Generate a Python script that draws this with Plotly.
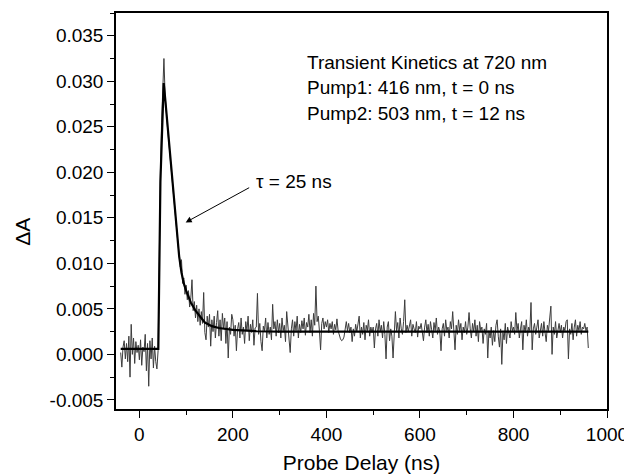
import numpy as np
import plotly.graph_objects as go

# Probe delay grid of the measured trace (ns)
t_start, t_step, t_end = -40.0, 2.5, 960.0

dA_pre = [2, -14, 8, 15, -5, 12, -8, 20, -25, 33, 0, 18, -10, 14, 2, 10, -6,
          16, -12, 8, 3, 22, -18, 12, -35, 15, -5, 18, -15, 9, -8, -16, 4]
dA_decay = [110, 200, 255, 305, 325, 285, 262, 250, 235, 222, 206,
            196, 182, 166, 150, 136, 122, 110, 96, 104, 78, 84, 66,
            76, 60, 70, 52, 62, 82, 48, 58, 40, 54, 36, 50, 32, 47,
            34, 68, 24, 16, 42, 30, 44, 9, 38, 25, 42, 18, 35, 48,
            20, 38, 15, 45, 28, 40, 12, 36, -4, 30, 22, 44]
dA_tail = [
    38, 20, 32, 4, 28, 35, 18, 40, 22, 30, 12, 36, 26, 42, 15, 33, 24, 38, 10, 29,
    30, 67, 22, 34, 14, 4, 31, 26, 40, 18, 35, 22, 30, 16, 55, 28, 36, 20, 38, 24,
    34, 18, 40, 26, 32, 14, 47, 30, 22, 2, 28, 38, 20, 36, 26, 42, 18, 33, 24, 37,
    28, 40, 21, 35, 30, 44, 24, 38, 20, 45, 32, 75, 36, 42, 26, 5, 34, 40, 28, 36,
    30, 38, 24, 34, 28, 36, 22, 33, 27, 39, 26, 20, 17, 15, 16, 19, 30, 36, 26, 34,
    24, 30, 14, 28, 20, 33, 25, 36, 42, 18, 30, 22, 35, 16, 32, 26, 38, 20, 30, 24,
    30, 7, 28, 34, 20, 38, 25, 32, 18, 36, 22, -5, 30, 36, 15, 28, 20, -4, 32, 47,
    26, 35, 18, 40, 28, 22, 36, 60, 24, 32, 25, 30, 38, 20, 33, 28, 24, 36, 19, 31,
    28, 34, 22, 15, 30, 38, 24, 33, 20, 36, 27, 18, 35, 26, 40, 22, 30, 25, 4, 28,
    34, 20, 38, 26, 30, 18, 36, 28, 47, 24, 5, 32, 22, 38, 26, 34, 16, 30, 24, 36,
    22, 30, 46, 28, 18, 34, 25, 38, 20, 32, 14, 36, 26, 30, 12, 28, 22, 34, -4, 26,
    18, 30, 10, 26, 14, 32, 38, 20, 8, 28, -11, 24, 16, 34, 12, 30, 22, 18, 36, 26,
    30, 22, 46, 26, 34, 18, 28, 36, 5, 32, 24, 38, 20, 30, 26, 57, 5, 28, 34, 22,
    30, 38, 18, 28, 34, 20, 36, 24, 14, 32, 26, 40, 53, 0, 30, 22, 36, 18, 28, 34,
    24, 32, 18, 30, 26, 36, 38, -5, 28, 22, 34, 16, 30, 38, 20, 32, 26, 36, 22, 30,
    28, 34, 26, 30, 7]

# Fitted curve
fit_t = [-40, 40.5, 45, 52, 55, 60, 65, 70, 75, 80, 85, 90, 95, 100, 105, 110,
         120, 130, 140, 155, 170, 200, 250, 300, 960]
fit_v = [0.0006, 0.0006, 0.0190, 0.0298, 0.0282, 0.0252, 0.0222, 0.0196, 0.0166,
         0.0134, 0.0108, 0.0090, 0.0078, 0.0070, 0.0063, 0.0057, 0.0048, 0.0041,
         0.0035, 0.0031, 0.0029, 0.0027, 0.00255, 0.0025, 0.0025]

# Axis ticks
x_ticks = [0, 200, 400, 600, 800, 1000]
y_ticks = [-0.005, 0.0, 0.005, 0.010, 0.015, 0.020, 0.025, 0.030, 0.035]
y_tick_text = ["-0.005", "0.000", "0.005", "0.010", "0.015", "0.020", "0.025", "0.030", "0.035"]

info_lines = ["Transient Kinetics at 720 nm", "Pump1: 416 nm, t = 0 ns", "Pump2: 503 nm, t = 12 ns"]

t_data = np.arange(t_start, t_end + t_step / 2, t_step)
dA = np.array(dA_pre + dA_decay + dA_tail) * 1e-4

FONT = "Liberation Sans, Arial, sans-serif"

fig = go.Figure()
fig.add_trace(go.Scatter(x=t_data, y=dA, mode="lines",
                         line=dict(color="#3c3c3c", width=1), showlegend=False))
fig.add_trace(go.Scatter(x=fit_t, y=fit_v, mode="lines",
                         line=dict(color="black", width=2.2), showlegend=False))

for i, txt in enumerate(info_lines):
    fig.add_annotation(x=355, y=0.0321 - i * 0.0028, text=txt, showarrow=False,
                       xanchor="left", yanchor="middle",
                       font=dict(family=FONT, size=19, color="black"))

fig.add_annotation(x=245, y=0.0190, text="τ = 25 ns", showarrow=False,
                   xanchor="left", yanchor="middle",
                   font=dict(family=FONT, size=19, color="black"))
fig.add_annotation(x=99, y=0.0145, ax=238, ay=0.0184, axref="x", ayref="y",
                   xref="x", yref="y", text="", showarrow=True,
                   arrowhead=2, arrowsize=1.2, arrowwidth=1, arrowcolor="black")

# y-axis title placed as rotated text left of the tick labels
fig.add_annotation(x=-0.19, y=0.447, xref="paper", yref="paper", text="ΔA",
                   textangle=-90, showarrow=False, xanchor="center", yanchor="middle",
                   font=dict(family=FONT, size=21, color="black"))

axis_common = dict(showline=True, linecolor="black", linewidth=1.5, mirror=True,
                   ticks="outside", ticklen=7, tickwidth=1.3, tickcolor="black",
                   showgrid=False, zeroline=False,
                   tickfont=dict(family=FONT, size=19, color="black"))

fig.update_xaxes(range=[-50, 1000], tickvals=x_ticks,
                 minor=dict(dtick=100, ticks="outside", ticklen=4, tickcolor="black", tickwidth=1.2),
                 title=dict(text="Probe Delay (ns)", standoff=12,
                            font=dict(family=FONT, size=21, color="black")),
                 **axis_common)
fig.update_yaxes(range=[-0.006, 0.0375], tickvals=y_ticks, ticktext=y_tick_text,
                 minor=dict(dtick=0.0025, ticks="outside", ticklen=4, tickcolor="black", tickwidth=1.2),
                 **axis_common)

# page body adds an 8 px margin, so the figure is 8 px smaller on each side
fig.update_layout(width=624, height=467,
                  margin=dict(l=108, r=25, t=5, b=66, autoexpand=False),
                  paper_bgcolor="white", plot_bgcolor="white")

fig.write_html("out.html")
